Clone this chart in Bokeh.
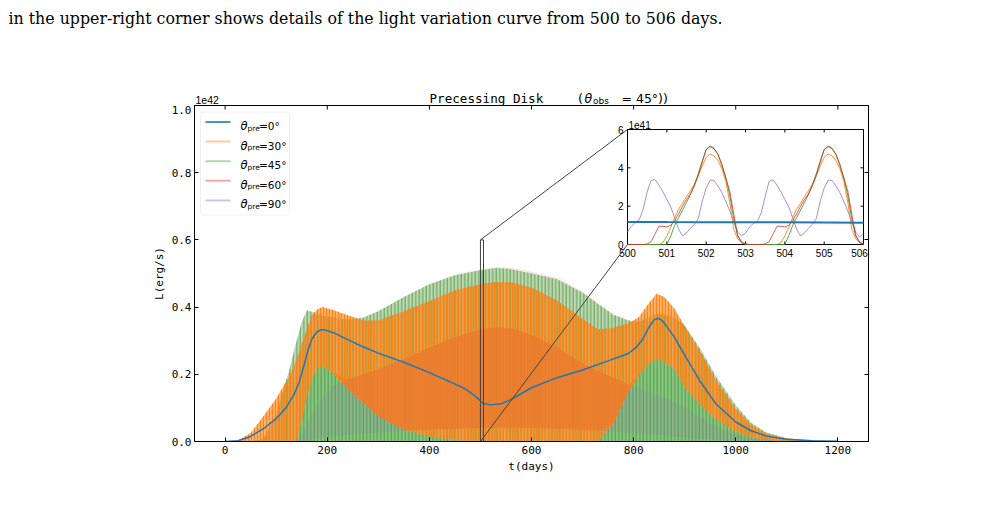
import numpy as np
from bokeh.plotting import figure
from bokeh.models import Range1d, LinearAxis, Label, BoxAnnotation, FixedTicker
from bokeh.core.properties import value
from bokeh.embed import file_html
from bokeh.resources import INLINE

# ---------------- data (main panel, units of 1e42 erg/s) ----------------
# theta_pre = 0 deg (no modulation)
t_L0 = [0, 25, 50, 75, 100, 120, 135, 145, 155, 162, 170, 178, 185, 192, 200, 215, 240, 270,
        300, 350, 400, 440, 470, 490, 505, 520, 540, 560, 600, 650, 700, 750, 790, 805, 818,
        830, 840, 848, 856, 865, 880, 900, 930, 960, 1000, 1030, 1060, 1100, 1150, 1200]
L0 = [0.0, 0.002, 0.015, 0.038, 0.068, 0.102, 0.14, 0.177, 0.23, 0.27, 0.305, 0.323, 0.331,
      0.333, 0.33, 0.322, 0.303, 0.282, 0.263, 0.236, 0.205, 0.178, 0.157, 0.135, 0.113, 0.109,
      0.112, 0.125, 0.16, 0.19, 0.213, 0.24, 0.262, 0.28, 0.305, 0.34, 0.362, 0.367, 0.36,
      0.342, 0.31, 0.257, 0.18, 0.114, 0.058, 0.032, 0.016, 0.007, 0.002, 0.0005]

# modulated series, drawn as envelopes of their oscillation
t_env = [0, 25, 50, 75, 100, 125, 140, 150, 160, 170, 180, 190, 210, 240, 270, 300, 350, 400,
         450, 500, 530, 560, 600, 650, 700, 730, 760, 790, 810, 830, 845, 860, 880, 900, 930,
         960, 1000, 1030, 1060, 1100, 1150, 1200]
# theta_pre = 30 deg
L30_hi = [0.0, 0.003, 0.025, 0.075, 0.128, 0.193, 0.245, 0.29, 0.335, 0.375, 0.393, 0.4, 0.392,
          0.376, 0.36, 0.36, 0.388, 0.418, 0.45, 0.468, 0.475, 0.474, 0.458, 0.42, 0.365, 0.333,
          0.338, 0.352, 0.37, 0.412, 0.44, 0.43, 0.395, 0.343, 0.268, 0.185, 0.097, 0.05, 0.023,
          0.008, 0.002, 0.0005]
L30_lo = [0.0, 0.0, 0.0, 0.0, 0.0, 0.0, 0.0, 0.06, 0.13, 0.185, 0.218, 0.224, 0.205, 0.158,
          0.115, 0.075, 0.035, 0.014, 0.004, 0.0, 0.0, 0.0, 0.0, 0.0, 0.0, 0.0, 0.05, 0.15, 0.195,
          0.232, 0.245, 0.238, 0.215, 0.16, 0.11, 0.067, 0.03, 0.013, 0.004, 0.0, 0.0, 0.0]
# theta_pre = 45 deg
L45_hi = [0.0, 0.0, 0.0, 0.008, 0.08, 0.21, 0.3, 0.355, 0.39, 0.386, 0.38, 0.375, 0.37, 0.362,
          0.368, 0.388, 0.43, 0.468, 0.495, 0.51, 0.516, 0.513, 0.5, 0.483, 0.443, 0.41, 0.378,
          0.36, 0.356, 0.37, 0.38, 0.378, 0.368, 0.345, 0.277, 0.197, 0.107, 0.056, 0.027, 0.01,
          0.003, 0.001]
# theta_pre = 60 deg
L60_hi = [0.0, 0.0, 0.0, 0.008, 0.08, 0.21, 0.3, 0.355, 0.39, 0.386, 0.38, 0.375, 0.37, 0.362,
          0.368, 0.388, 0.43, 0.468, 0.496, 0.512, 0.519, 0.518, 0.505, 0.488, 0.447, 0.411,
          0.378, 0.36, 0.356, 0.37, 0.38, 0.378, 0.368, 0.345, 0.277, 0.197, 0.107, 0.056, 0.027,
          0.01, 0.003, 0.001]
# theta_pre = 90 deg
L90_hi = [0.0, 0.0, 0.0, 0.0, 0.0, 0.0, 0.0, 0.02, 0.05, 0.08, 0.11, 0.13, 0.165, 0.185, 0.2,
          0.215, 0.245, 0.28, 0.31, 0.333, 0.34, 0.336, 0.318, 0.28, 0.232, 0.21, 0.19, 0.17,
          0.16, 0.148, 0.14, 0.13, 0.115, 0.1, 0.072, 0.046, 0.02, 0.01, 0.005, 0.001, 0.0, 0.0]
L90_lo = [0.0, 0.0, 0.0, 0.0, 0.0, 0.0, 0.0, 0.0, 0.003, 0.006, 0.01, 0.012, 0.016, 0.02, 0.024,
          0.027, 0.032, 0.035, 0.038, 0.04, 0.041, 0.041, 0.04, 0.038, 0.035, 0.032, 0.03, 0.026,
          0.024, 0.021, 0.02, 0.018, 0.015, 0.012, 0.008, 0.005, 0.002, 0.0, 0.0, 0.0, 0.0, 0.0]

# ---------------- data (inset, 500-506 days, units of 1e41 erg/s) ----------------
t_in = [round(500 + 0.1 * i, 1) for i in range(61)]
in_t0 = [500, 501, 502, 503, 504, 505, 506]
in_L0 = [1.18, 1.17, 1.165, 1.16, 1.155, 1.148, 1.14]
in_L30 = [0, 0, 0, 0, 0, 0, 0, 0, 0, 0.1, 0.45,
          0.9, 1.4, 1.85, 2.15, 2.5, 2.8, 3.15, 3.6, 4.1, 4.55, 4.72, 4.62, 4.38, 3.95, 3.3, 2.2, 0.8, 0.3, 0.1, 0.03,
          0, 0, 0, 0, 0, 0, 0, 0, 0.1, 0.45,
          0.9, 1.4, 1.85, 2.15, 2.5, 2.8, 3.15, 3.6, 4.1, 4.55, 4.72, 4.62, 4.38, 3.95, 3.3, 2.2, 0.8, 0.3, 0.1, 0.03]
in_L45 = [0.02, 0, 0, 0, 0, 0, 0, 0, 0, 0, 0,
          0.45, 1.0, 1.4, 1.8, 2.2, 2.6, 3.1, 3.7, 4.35, 4.95, 5.15, 5.02, 4.7, 4.2, 3.5, 2.55, 1.35, 0.45, 0.1, 0.0,
          0, 0, 0, 0, 0, 0, 0, 0, 0, 0,
          0.45, 1.0, 1.4, 1.8, 2.2, 2.6, 3.1, 3.7, 4.35, 4.95, 5.15, 5.02, 4.7, 4.2, 3.5, 2.55, 1.35, 0.45, 0.1, 0.0]
in_L60 = [0, 0, 0, 0, 0, 0.03, 0.15, 0.55, 0.95, 0.95, 0.92,
          1.0, 1.25, 1.6, 2.0, 2.35, 2.65, 3.05, 3.6, 4.3, 4.95, 5.1, 5.0, 4.7, 4.1, 3.45, 2.8, 1.6, 0.5, 0.12, 0.03,
          0, 0, 0, 0, 0.03, 0.15, 0.55, 0.95, 0.95, 0.92,
          1.0, 1.25, 1.6, 2.0, 2.35, 2.65, 3.05, 3.6, 4.3, 4.95, 5.1, 5.0, 4.7, 4.1, 3.45, 2.8, 1.6, 0.5, 0.12, 0.03]
in_L90 = [0.66, 0.95, 1.15, 1.3, 1.85, 2.75, 3.35, 3.38, 3.1, 2.75,
          2.35, 1.95, 1.4, 0.8, 0.45, 0.6, 0.85, 1.05, 1.35, 2.25,
          2.95, 3.35, 3.35, 3.05, 2.7, 2.25, 1.75, 1.2, 0.65, 0.45,
          0.6, 0.9, 1.1, 1.2, 1.65, 2.5, 3.3, 3.38, 3.1, 2.75,
          2.35, 1.95, 1.4, 0.8, 0.45, 0.6, 0.85, 1.05, 1.35, 2.25,
          2.95, 3.35, 3.35, 3.05, 2.7, 2.25, 1.75, 1.2, 0.65, 0.4,
          0.55]

x_ticks = [0, 200, 400, 600, 800, 1000, 1200]
x_tick_labels = ["0", "200", "400", "600", "800", "1000", "1200"]
y_ticks = [0.0, 0.2, 0.4, 0.6, 0.8, 1.0]
y_tick_labels = ["0.0", "0.2", "0.4", "0.6", "0.8", "1.0"]
in_x_ticks = [500, 501, 502, 503, 504, 505, 506]
in_x_tick_labels = ["500", "501", "502", "503", "504", "505", "506"]
in_y_ticks = [0, 2, 4, 6]
in_y_tick_labels = ["0", "2", "4", "6"]
legend_angles = ["0°", "30°", "45°", "60°", "90°"]

# ---------------- style / layout ----------------
BLUE, ORANGE, GREEN, RED, PURPLE = "#1f77b4", "#ff7f0e", "#2ca02c", "#d62728", "#9467bd"
W, H = 996, 511
FL, FR, FT, FB = 194, 868, 105, 441          # main frame in page pixels
XR = (-60, 1260)
YR = (0.0, 1.0)
IFL, IFR, IFT, IFB = 627, 863, 129, 244      # inset frame in page pixels
IXR = (in_x_ticks[0], in_x_ticks[-1])
IYR = (in_y_ticks[0], in_y_ticks[-1])
MONO = "DejaVu Sans Mono"
SANS = "DejaVu Sans"
ISX = (IXR[1] - IXR[0]) / (IFR - IFL)       # inset data units per pixel
ISY = (IYR[1] - IYR[0]) / (IFB - IFT)
MSY = (YR[1] - YR[0]) / (FB - FT)


def px2x(px):
    return XR[0] + (px - FL) / (FR - FL) * (XR[1] - XR[0])


def px2y(py):
    return YR[0] + (FB - py) / (FB - FT) * (YR[1] - YR[0])


# ---------- header strip (text above the axes) ----------
hdr = figure(width=W, height=FT, x_range=Range1d(0, W), y_range=Range1d(FT, 0),
             output_backend="svg", toolbar_location=None, title=None,
             x_axis_location=None, y_axis_location=None,
             min_border=0, min_border_left=0, min_border_right=0, min_border_top=0,
             min_border_bottom=0)
hdr.grid.visible = False
hdr.outline_line_color = None
hdr.background_fill_color = "white"
hdr.border_fill_color = "white"


def htxt(x, y, s, font=SANS, size=11, style="normal"):
    hdr.add_layout(Label(x=x, y=y, text=s, text_font=font, text_font_size=f"{size}px",
                         text_font_style=style, text_align="left", text_baseline="alphabetic",
                         text_color="black"))


htxt(8, 18, "in the upper-right corner shows details of the light variation curve from 500 to 506 days.",
     font="DejaVu Serif", size=15.8)
htxt(429, 98, "Precessing Disk", font=MONO, size=12.6)
htxt(576, 98, "(", font=MONO, size=12.6)
htxt(584, 98, "θ", size=12.5, style="italic")
htxt(592.5, 100.5, "obs", size=9)
htxt(621, 98, "= 45°))", size=12.5)
htxt(195, 99, "1e42", font="Liberation Sans", size=10.5)

# ---------- main axes ----------
p = figure(width=W, height=H - FT, x_range=Range1d(*XR), y_range=Range1d(*YR),
           output_backend="svg", toolbar_location=None, title=None,
           min_border_left=FL, min_border_right=W - FR, min_border_top=0, min_border_bottom=H - FB)
p.grid.visible = False
p.outline_line_color = "black"
p.outline_line_width = 1
p.background_fill_color = "white"
p.border_fill_color = "white"


def style_axis(ax, ticks, labels, size, font, show=True, tick_in=4):
    ax.ticker = FixedTicker(ticks=ticks)
    ax.major_tick_in = tick_in
    ax.major_tick_out = 0
    ax.minor_tick_in = 0
    ax.minor_tick_out = 0
    ax.axis_line_color = "black"
    ax.major_tick_line_color = "black"
    ax.major_label_text_font = font
    ax.major_label_text_font_size = size
    ax.major_label_text_color = "black"
    if show:
        ax.major_label_overrides = {t: l for t, l in zip(ticks, labels)}
        ax.major_label_standoff = 4
    else:
        ax.major_label_overrides = {t: "" for t in ticks}
        ax.major_label_standoff = 0
        ax.major_label_text_alpha = 0


style_axis(p.xaxis[0], x_ticks, x_tick_labels, "11px", MONO)
style_axis(p.yaxis[0], y_ticks, y_tick_labels, "11px", MONO)
p.yaxis[0].major_label_standoff = 3
p.xaxis[0].axis_label = "t(days)"
p.yaxis[0].axis_label = "L(erg/s)"
for ax in (p.xaxis[0], p.yaxis[0]):
    ax.axis_label_text_font = MONO
    ax.axis_label_text_font_size = "11px"
    ax.axis_label_text_font_style = "normal"
    ax.axis_label_text_color = "black"
    ax.axis_label_standoff = 3
right_ax = LinearAxis()
style_axis(right_ax, y_ticks, y_tick_labels, "10px", MONO, show=False)
p.add_layout(right_ax, "right")
# inward ticks along the top edge
p.segment(x0=x_ticks, x1=x_ticks, y0=[YR[1]] * len(x_ticks), y1=[YR[1] - 4 * MSY] * len(x_ticks),
          line_color="black", line_width=1)

# legend frame (below the glyphs so the legend lines stay visible)
p.add_layout(BoxAnnotation(left=px2x(200), right=px2x(289), top=px2y(111.5), bottom=px2y(214.5),
                           fill_color="white", fill_alpha=0.85, line_color="#cccccc",
                           line_width=1, border_radius=3, level="underlay"))

# oscillating series as envelopes with vertical striping
zeros = [0.0] * len(t_env)
p.varea(x=t_env, y1=zeros, y2=L60_hi, fill_color=RED, fill_alpha=0.12)
p.varea(x=t_env, y1=zeros, y2=L45_hi, fill_color=GREEN, fill_alpha=0.25,
        hatch_pattern="vertical_line", hatch_color=GREEN, hatch_alpha=0.8, hatch_scale=3.5,
        hatch_weight=1)
# denser part of the 45 deg curve (below the 30 deg band)
p.varea(x=t_env, y1=zeros, y2=np.minimum(L30_lo, L45_hi), fill_color=GREEN, fill_alpha=0.35)
p.varea(x=t_env, y1=L30_lo, y2=L30_hi, fill_color=ORANGE, fill_alpha=0.6,
        hatch_pattern="vertical_line", hatch_color=ORANGE, hatch_alpha=0.9, hatch_scale=3,
        hatch_weight=1.3)
# where the 90 deg band overlaps the 30 deg band the striping becomes dense
ov_lo = np.maximum(L90_lo, L30_lo)
ov_hi = np.maximum(np.minimum(L90_hi, L30_hi), ov_lo)
p.varea(x=t_env, y1=ov_lo, y2=ov_hi, fill_color=ORANGE, fill_alpha=0.8)
p.varea(x=t_env, y1=L90_lo, y2=L90_hi, fill_color=PURPLE, fill_alpha=0.16)
p.line(t_L0, L0, line_color=BLUE, line_width=1.5)

# zoom rectangle and connectors to the inset
p.line([IXR[0], IXR[0], IXR[1], IXR[1], IXR[0]],
       [IYR[0] / 10, IYR[1] / 10, IYR[1] / 10, IYR[0] / 10, IYR[0] / 10],
       line_color="#444444", line_width=1)
p.line([IXR[0], px2x(IFL)], [IYR[1] / 10, px2y(IFT)], line_color="#444444", line_width=1)
p.line([IXR[0], px2x(IFL)], [IYR[0] / 10, px2y(IFB)], line_color="#444444", line_width=1)


def txt(x_px, y_px, s, font=SANS, size=11, style="normal"):
    p.add_layout(Label(x=px2x(x_px), y=px2y(y_px), text=s, text_font=font,
                       text_font_size=f"{size}px", text_font_style=style, text_align="left",
                       text_baseline="alphabetic", text_color="black"))


# legend entries
leg_colors = [BLUE, ORANGE, GREEN, RED, PURPLE]
leg_alpha = [0.8, 0.4, 0.4, 0.4, 0.4]
for i, (c, a, lab) in enumerate(zip(leg_colors, leg_alpha, legend_angles)):
    yy = 121.5 + 19.6 * i
    p.line([px2x(205), px2x(230)], [px2y(yy), px2y(yy)], line_color=c, line_alpha=a, line_width=2)
    txt(240, yy + 4, "θ", size=11.5, style="italic")
    txt(247, yy + 6, "pre", size=7.5)
    txt(258.5, yy + 4, "=" + lab, size=10.5)

# ---------- inset (own scales mapped onto the inset box) ----------
p.extra_x_ranges = {"ix": Range1d(IXR[0] - (IFL - FL) * ISX, IXR[1] + (FR - IFR) * ISX)}
p.extra_y_ranges = {"iy": Range1d(IYR[0] - (FB - IFB) * ISY, IYR[1] + (IFT - FT) * ISY)}
R = dict(x_range_name="ix", y_range_name="iy")
p.quad(left=[IXR[0]], right=[IXR[1]], bottom=[IYR[0]], top=[IYR[1]], fill_color="white",
       line_color="black", line_width=1, **R)
nx, ny = len(in_x_ticks), len(in_y_ticks)
p.segment(x0=in_x_ticks, x1=in_x_ticks, y0=[IYR[0]] * nx, y1=[IYR[0] + 3 * ISY] * nx,
          line_color="black", **R)
p.segment(x0=in_x_ticks, x1=in_x_ticks, y0=[IYR[1]] * nx, y1=[IYR[1] - 3 * ISY] * nx,
          line_color="black", **R)
p.segment(x0=[IXR[0]] * ny, x1=[IXR[0] + 3 * ISX] * ny, y0=in_y_ticks, y1=in_y_ticks,
          line_color="black", **R)
p.segment(x0=[IXR[1]] * ny, x1=[IXR[1] - 3 * ISX] * ny, y0=in_y_ticks, y1=in_y_ticks,
          line_color="black", **R)
p.text(x=in_x_ticks, y=[IYR[0] - 4 * ISY] * nx, text=in_x_tick_labels, text_align="center",
       text_baseline="top", text_font=value("Liberation Sans"), text_font_size="10px",
       x_offset=[0, 0, 0, 0, 0, 0, -4], text_color="black", **R)
p.text(x=[IXR[0] - 4 * ISX] * ny, y=in_y_ticks, text=in_y_tick_labels, text_align="right",
       text_baseline="middle", text_font=value("Liberation Sans"), text_font_size="10px",
       text_color="black", **R)

p.line(t_in, in_L90, line_color=PURPLE, line_alpha=0.75, line_width=1, **R)
p.line(t_in, in_L30, line_color=ORANGE, line_alpha=0.85, line_width=1, **R)
p.line(t_in, in_L45, line_color=GREEN, line_alpha=0.85, line_width=1, **R)
p.line(t_in, in_L60, line_color=RED, line_alpha=0.75, line_width=1, **R)
p.line(in_t0, in_L0, line_color=BLUE, line_width=2, **R)
txt(628, 124, "1e41", font="Liberation Sans", size=10)

open("out.html", "w").write(file_html([hdr, p], INLINE))
